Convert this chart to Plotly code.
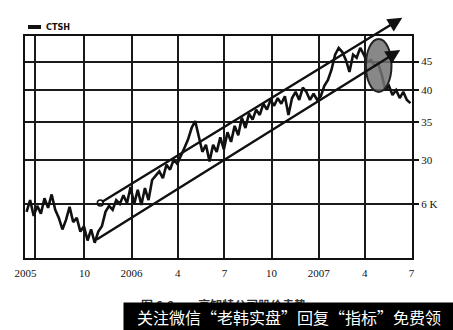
import math
import pandas as pd
import plotly.graph_objects as go

# ---- data (weekly closes) ----
prices = [
    24.2, 25.4, 23.8, 24.8, 24.0, 25.6, 24.6, 26.0, 24.4, 23.6,
    22.5, 23.4, 24.7, 23.2, 23.6, 22.3, 22.8, 21.5, 22.5, 21.3,
    22.3, 22.8, 24.2, 24.8, 24.4, 25.4, 25.0, 25.9, 25.1, 26.8,
    25.0, 26.5, 24.9, 26.7, 25.4, 27.6, 28.1, 28.6, 27.8, 29.4,
    28.8, 30.0, 29.5, 30.6, 31.5, 32.6, 34.2, 35.2, 33.1, 31.0,
    31.9, 29.8, 31.9, 31.0, 32.9, 31.3, 33.6, 32.3, 34.5, 33.2,
    35.7, 34.2, 36.3, 35.4, 36.9, 36.1, 37.8, 36.9, 38.4, 37.5,
    38.7, 37.8, 39.0, 36.1, 38.7, 39.7, 38.4, 40.4, 39.7, 38.4,
    39.4, 38.4, 39.0, 40.7, 41.7, 43.5, 46.3, 47.6, 46.8, 45.3,
    43.1, 46.3, 45.7, 47.6, 46.3, 44.9, 45.3, 44.2, 44.6, 42.6,
    40.0, 40.7, 39.2, 40.0, 38.7, 39.7, 38.4, 37.9,
]
dates = pd.date_range("2005-06-10", periods=len(prices), freq="7D")

x_range = ["2005-06-07", "2007-07-02"]
x_tickvals = ["2005-06-08", "2005-06-26", "2005-10-01", "2006-01-01", "2006-04-01",
              "2006-07-01", "2006-10-01", "2007-01-01", "2007-04-01", "2007-07-01"]
x_ticktext = ["2005", "", "10", "2006", "4", "7", "10", "2007", "4", "7"]

y_range = [20, 50]
y_tickvals = [25, 30, 35, 40, 45]
y_ticktext = ["6 K", "30", "35", "40", "45"]

# trend channel (start date, start price, end date, end price)
upper_channel = ["2005-11-01", 25.1, "2007-06-13", 53.9]
lower_channel = ["2005-10-22", 21.5, "2007-06-09", 47.2]
channel_marks_x = ["2005-11-01", "2007-06-15"]
channel_marks_y = [25.1, 54.4]

# highlighted area
ellipse_x = ["2007-04-03", "2007-05-23"]
ellipse_y = [39.7, 49.4]

legend_name = "CTSH"
caption = "图 6-9　　高知特公司股价走势"
watermark = "关注微信“老韩实盘”回复“指标”免费领"

W, H = 453, 330
L, R, T, B = 25, 41, 36, 72
pw, ph = W - L - R, H - T - B


def px_x(px):
    return (px - L) / pw


def px_y(py):
    return (H - B - py) / ph


_t0 = pd.Timestamp(x_range[0])
_t1 = pd.Timestamp(x_range[1])


def date_to_paper(d):
    return (pd.Timestamp(d) - _t0) / (_t1 - _t0)


def price_to_paper(p):
    return (math.log10(p) - math.log10(y_range[0])) / (math.log10(y_range[1]) - math.log10(y_range[0]))


fig = go.Figure()
fig.add_trace(go.Scatter(
    x=dates, y=prices, mode="lines", name=legend_name,
    line=dict(color="#111111", width=2.6), showlegend=False,
))
fig.add_trace(go.Scatter(
    x=channel_marks_x, y=channel_marks_y, mode="markers", cliponaxis=False,
    marker=dict(symbol="circle-open", size=6, color="#111111", line=dict(width=1.5)),
    showlegend=False, hoverinfo="skip",
))

annotations = []
for ch in (upper_channel, lower_channel):
    annotations.append(dict(
        x=ch[2], y=math.log10(ch[3]), ax=ch[0], ay=math.log10(ch[1]),
        xref="x", yref="y", axref="x", ayref="y",
        text="", showarrow=True, arrowhead=2, arrowsize=1.2,
        arrowwidth=2.4, arrowcolor="#111111",
    ))

annotations.append(dict(
    x=px_x(44), y=px_y(27), xref="paper", yref="paper", xanchor="left", yanchor="middle",
    text="<b>" + legend_name + "</b>", showarrow=False,
    font=dict(family="Liberation Sans Narrow, DejaVu Sans Condensed, Arial Narrow", size=9, color="#111111"),
))
annotations.append(dict(
    x=px_x(223), y=px_y(304), xref="paper", yref="paper", xanchor="center", yanchor="middle",
    text="<b>" + caption + "</b>", showarrow=False,
    font=dict(family="Noto Sans CJK SC", size=12, color="#333333"),
))
annotations.append(dict(
    x=px_x(123), y=px_y(302), xref="paper", yref="paper", xanchor="left", yanchor="top",
    text=watermark, showarrow=False, width=330, height=28, borderpad=0,
    bgcolor="#000000", align="center", valign="middle",
    font=dict(family="Noto Sans CJK SC", size=16, color="#ffffff"),
))

shapes = [
    dict(type="circle", xref="paper", yref="paper",
         x0=date_to_paper(ellipse_x[0]), x1=date_to_paper(ellipse_x[1]),
         y0=price_to_paper(ellipse_y[0]), y1=price_to_paper(ellipse_y[1]),
         fillcolor="rgba(115,115,115,0.85)", line=dict(color="#222222", width=2), layer="above"),
    dict(type="line", xref="paper", yref="paper",
         x0=px_x(28), x1=px_x(41), y0=px_y(27), y1=px_y(27),
         line=dict(color="#111111", width=4)),
]

tickfont = dict(family="Liberation Serif, DejaVu Serif", size=11, color="#111111")
fig.update_layout(
    width=W, height=H, margin=dict(l=L, r=R, t=T, b=B, pad=0),
    paper_bgcolor="white", plot_bgcolor="white",
    annotations=annotations, shapes=shapes,
    xaxis=dict(type="date", range=x_range, tickmode="array", tickvals=x_tickvals,
               ticktext=x_ticktext, showgrid=True, gridcolor="#1a1a1a", gridwidth=1.5,
               showline=True, linecolor="#111111", linewidth=2, mirror=True,
               ticks="", zeroline=False, tickfont=tickfont, ticklabelstandoff=4),
    yaxis=dict(type="log", side="right", range=[math.log10(y_range[0]), math.log10(y_range[1])],
               tickmode="array", tickvals=y_tickvals, ticktext=y_ticktext,
               showgrid=True, gridcolor="#1a1a1a", gridwidth=1.5,
               showline=True, linecolor="#111111", linewidth=2, mirror=True,
               ticks="outside", ticklen=5, tickwidth=1.5, tickcolor="#111111",
               zeroline=False, tickfont=tickfont),
)

fig.write_html("out.html")
